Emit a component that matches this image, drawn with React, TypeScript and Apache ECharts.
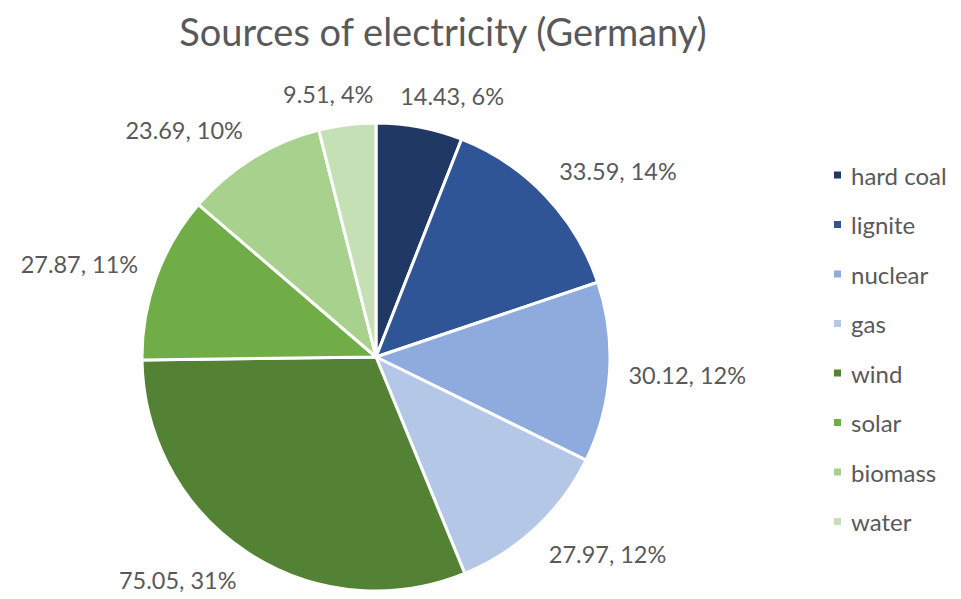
import React, { useEffect, useRef } from "react";
import * as echarts from "echarts";

const categories = ["hard coal", "lignite", "nuclear", "gas", "wind", "solar", "biomass", "water"];
const values = [14.43, 33.59, 30.12, 27.97, 75.05, 27.87, 23.69, 9.51];
const colors = ["#203864", "#2F5597", "#8FAADC", "#B4C7E7", "#548235", "#70AD47", "#A9D18E", "#C5E0B4"];
const titleText = "Sources of electricity (Germany)";

const FONT = "Lato, sans-serif";
const GREY = "#595959";
const CX = 368;
const CY = 349;
const R = 234;
const LABEL_DIST = 253;

export default function App() {
  const ref = useRef<HTMLDivElement>(null);
  useEffect(() => {
    if (!ref.current) return;
    const chart = echarts.init(ref.current, null, { renderer: "svg" });
    const total = values.reduce((a, b) => a + b, 0);
    const mids: number[] = [];
    let acc = 0;
    values.forEach((v) => {
      mids.push(((acc + v / 2) / total) * Math.PI * 2);
      acc += v;
    });
    const clamp = (v: number) => Math.max(-1, Math.min(1, v));
    chart.setOption({
      animation: false,
      color: colors,
      title: {
        text: titleText,
        left: 435,
        top: 0,
        padding: [4, 0, 0, 0],
        textAlign: "center",
        textStyle: { fontFamily: FONT, fontSize: 38, fontWeight: "normal", color: GREY },
      },
      legend: {
        orient: "vertical",
        left: 824,
        top: 155,
        padding: 0,
        itemWidth: 9,
        itemHeight: 9,
        itemGap: 25.5,
        icon: "rect",
        textStyle: { fontFamily: FONT, fontSize: 24, lineHeight: 24, color: GREY, padding: [0, 0, 0, 4] },
        data: categories,
      },
      series: [
        {
          type: "pie",
          center: [CX, CY],
          radius: [0, R],
          startAngle: 90,
          clockwise: true,
          percentPrecision: 0,
          itemStyle: { borderColor: "#ffffff", borderWidth: 3 },
          label: {
            show: true,
            position: "outside",
            formatter: "{c}, {d}%",
            fontFamily: FONT,
            fontSize: 23.5,
            color: GREY,
          },
          labelLine: { show: false, length: 14, length2: 0 },
          labelLayout: (params: any) => {
            const a = mids[params.dataIndex];
            const ux = Math.sin(a);
            const uy = -Math.cos(a);
            const w = params.labelRect.width;
            const h = params.labelRect.height;
            const px = CX + LABEL_DIST * ux;
            const py = CY + LABEL_DIST * uy;
            return {
              x: px + (w / 2) * clamp(ux * 3),
              y: py + (h / 2) * clamp(uy * 1.6),
              align: "center",
              verticalAlign: "middle",
            };
          },
          data: categories.map((name, i) => ({ name, value: values[i] })),
        },
      ],
    });
    return () => chart.dispose();
  }, []);
  return <div ref={ref} style={{ width: 945, height: 591 }} />;
}
